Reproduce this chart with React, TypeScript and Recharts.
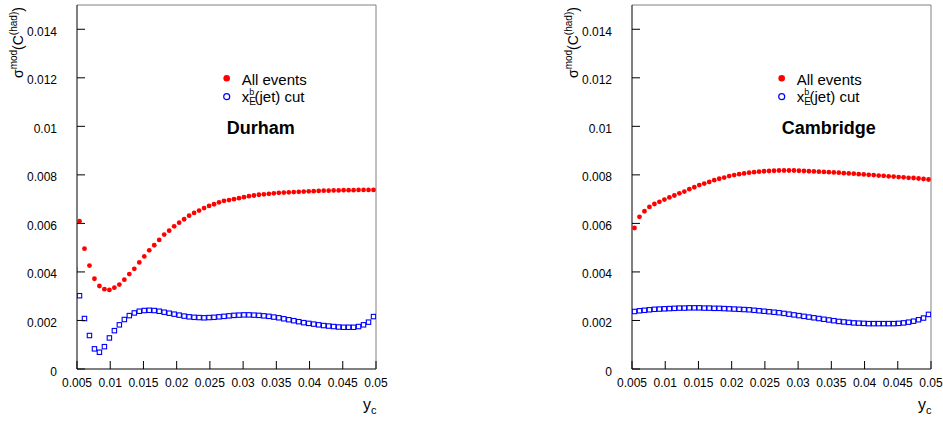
import React from 'react';
import { ScatterChart, Scatter, XAxis, YAxis, Legend } from 'recharts';

const FONT = '"Liberation Sans", Arial, Helvetica, sans-serif';

// bin centres of y_c
const binCenters = [
  0.005375, 0.006125, 0.006875, 0.007625, 0.008375, 0.009125, 0.009875, 0.010625, 0.011375, 0.012125,
  0.012875, 0.013625, 0.014375, 0.015125, 0.015875, 0.016625, 0.017375, 0.018125, 0.018875, 0.019625,
  0.020375, 0.021125, 0.021875, 0.022625, 0.023375, 0.024125, 0.024875, 0.025625, 0.026375, 0.027125,
  0.027875, 0.028625, 0.029375, 0.030125, 0.030875, 0.031625, 0.032375, 0.033125, 0.033875, 0.034625,
  0.035375, 0.036125, 0.036875, 0.037625, 0.038375, 0.039125, 0.039875, 0.040625, 0.041375, 0.042125,
  0.042875, 0.043625, 0.044375, 0.045125, 0.045875, 0.046625, 0.047375, 0.048125, 0.048875, 0.049625,
];

const durhamAll = [
  0.00609, 0.00496, 0.00426, 0.00372, 0.00342, 0.00329, 0.00326, 0.00335, 0.00348, 0.00368,
  0.00391, 0.00413, 0.00439, 0.00464, 0.00489, 0.00510, 0.00532, 0.00554, 0.00570, 0.00588,
  0.00603, 0.00617, 0.00632, 0.00643, 0.00653, 0.00663, 0.00672, 0.00679, 0.00687, 0.00693,
  0.00696, 0.00700, 0.00704, 0.00708, 0.00712, 0.00715, 0.00718, 0.00720, 0.00722, 0.00724,
  0.00726, 0.00727, 0.00728, 0.00729, 0.00730, 0.00731, 0.00732, 0.00733, 0.00734, 0.00735,
  0.00735, 0.00736, 0.00736, 0.00737, 0.00737, 0.00737, 0.00738, 0.00738, 0.00738, 0.00738,
];

const durhamCut = [
  0.00302, 0.00208, 0.00138, 0.00083, 0.00069, 0.00092, 0.00128, 0.00158, 0.00182, 0.00204,
  0.00220, 0.00231, 0.00238, 0.00241, 0.00242, 0.00241, 0.00238, 0.00234, 0.00230, 0.00226,
  0.00222, 0.00218, 0.00215, 0.00213, 0.00212, 0.00211, 0.00212, 0.00213, 0.00215, 0.00217,
  0.00219, 0.00221, 0.00222, 0.00223, 0.00223, 0.00222, 0.00221, 0.00219, 0.00217, 0.00214,
  0.00211, 0.00207, 0.00203, 0.00199, 0.00195, 0.00191, 0.00188, 0.00185, 0.00182, 0.00179,
  0.00177, 0.00175, 0.00173, 0.00172, 0.00172, 0.00172, 0.00175, 0.00182, 0.00193, 0.00216,
];

const cambridgeAll = [
  0.00581, 0.00627, 0.00650, 0.00668, 0.00680, 0.00689, 0.00698, 0.00707, 0.00715, 0.00724,
  0.00731, 0.00741, 0.00749, 0.00758, 0.00764, 0.00771, 0.00778, 0.00784, 0.00789, 0.00795,
  0.00799, 0.00803, 0.00806, 0.00809, 0.00811, 0.00813, 0.00815, 0.00816, 0.00817, 0.00818,
  0.00818, 0.00818, 0.00818, 0.00817, 0.00816, 0.00815, 0.00814, 0.00813, 0.00812, 0.00811,
  0.00810, 0.00809, 0.00807, 0.00806, 0.00805, 0.00803, 0.00802, 0.00800, 0.00799, 0.00797,
  0.00796, 0.00794, 0.00793, 0.00791, 0.00790, 0.00788, 0.00787, 0.00785, 0.00783, 0.00781,
];

const cambridgeCut = [
  0.00237, 0.00240, 0.00242, 0.00244, 0.00246, 0.00247, 0.00248, 0.00249, 0.00250, 0.00251,
  0.00251, 0.00252, 0.00252, 0.00252, 0.00251, 0.00251, 0.00250, 0.00250, 0.00249, 0.00248,
  0.00247, 0.00246, 0.00245, 0.00244, 0.00242, 0.00240, 0.00238, 0.00236, 0.00234, 0.00232,
  0.00229, 0.00226, 0.00223, 0.00220, 0.00217, 0.00214, 0.00211, 0.00208, 0.00205, 0.00202,
  0.00199, 0.00196, 0.00194, 0.00192, 0.00190, 0.00189, 0.00188, 0.00187, 0.00187, 0.00187,
  0.00187, 0.00187, 0.00187, 0.00188, 0.00190, 0.00193, 0.00197, 0.00203, 0.00210, 0.00225,
];

// a partly hidden marker just left of the Durham axis
const durhamCutEdgeX = [0.004625];
const durhamCutEdgeY = [0.0041];

const xMajorTicks = [0.005, 0.01, 0.015, 0.02, 0.025, 0.03, 0.035, 0.04, 0.045, 0.05];
const xTickLabels = ['0.005', '0.01', '0.015', '0.02', '0.025', '0.03', '0.035', '0.04', '0.045', '0.05'];
const yMajorTicks = [0, 0.002, 0.004, 0.006, 0.008, 0.01, 0.012, 0.014];
const yTickLabels = ['0', '0.002', '0.004', '0.006', '0.008', '0.01', '0.012', '0.014'];
const xMinorTicks = Array.from({ length: 46 }, (_, i) => 0.005 + i * 0.001);
const yMinorTicks = Array.from({ length: 31 }, (_, i) => i * 0.0005);

const X_DOMAIN: [number, number] = [0.005, 0.05];
const Y_DOMAIN: [number, number] = [0, 0.015];

const Y_LABEL_GAP = 20;
const MAJOR_LEN = 8;

const RedDot = (p: any) => <circle cx={p.cx} cy={p.cy} r={2.4} fill="#ff0000" />;
const BlueSquare = (p: any) => (
  <rect x={p.cx - 2.2} y={p.cy - 2.2} width={4.4} height={4.4} fill="none" stroke="#0000ff" strokeWidth={1.1} />
);

// major x tick: inward tick line plus label below the axis
const XTick = (p: any) => {
  const idx = xMajorTicks.indexOf(p.payload.value);
  return (
    <g>
      <line x1={p.x} x2={p.x} y1={p.y} y2={p.y - MAJOR_LEN} stroke="#000" strokeWidth={1} />
      <text x={p.x} y={p.y} dy={18} textAnchor="middle" fontFamily={FONT} fontSize={12} fill="#000">
        {idx >= 0 ? xTickLabels[idx] : ''}
      </text>
    </g>
  );
};

// major y tick: inward tick line plus label left of the axis
const YTick = (p: any) => {
  const idx = yMajorTicks.indexOf(p.payload.value);
  const ax = p.x + Y_LABEL_GAP;
  return (
    <g>
      <line x1={ax} x2={ax + MAJOR_LEN} y1={p.y} y2={p.y} stroke="#000" strokeWidth={1} />
      <text x={p.x} y={p.y} dy={6.5} textAnchor="end" fontFamily={FONT} fontSize={12} fill="#000">
        {idx >= 0 ? yTickLabels[idx] : ''}
      </text>
    </g>
  );
};

const YTitle = (p: any) => {
  const vb = p.viewBox || {};
  const x = vb.x + (vb.width || 0) - 54;
  const y = vb.y + 73;
  return (
    <text x={x} y={y} transform={`rotate(-90 ${x} ${y})`} fontFamily={FONT} fontSize={14} fill="#000">
      σ<tspan fontSize={10} dy={-6}>mod</tspan>
      <tspan fontSize={14} dy={6}>(C</tspan>
      <tspan fontSize={10} dy={-6}>(had)</tspan>
      <tspan fontSize={14} dy={6}>)</tspan>
    </text>
  );
};

const XTitle = (p: any) => {
  const vb = p.viewBox || {};
  return (
    <text x={vb.x + vb.width - 13} y={vb.y + 41} fontFamily={FONT} fontSize={16} fill="#000">
      y<tspan fontSize={11} dy={4}>c</tspan>
    </text>
  );
};

const makeLegend = (title: string) => () => (
  <svg width={150} height={74} style={{ overflow: 'visible', display: 'block' }}>
    <circle cx={6.7} cy={10.3} r={3.3} fill="#ff0000" />
    <text x={21.7} y={16.5} fontFamily={FONT} fontSize={15} fill="#000">All events</text>
    <circle cx={6.7} cy={28.7} r={3} fill="none" stroke="#0000ff" strokeWidth={1.2} />
    <text fontFamily={FONT} fontSize={15} fill="#000">
      <tspan x={21.7} y={33.7}>x</tspan>
      <tspan x={29.2} y={27} fontSize={9}>b</tspan>
      <tspan x={29.2} y={37} fontSize={10}>E</tspan>
      <tspan x={34.5} y={33.7}>(jet) cut</tspan>
    </text>
    <text x={6.7} y={66} fontFamily={FONT} fontSize={18} fontWeight="bold" fill="#000">{title}</text>
  </svg>
);

type PanelProps = {
  title: string;
  all: number[];
  cut: number[];
  edgeX?: number[];
  edgeY?: number[];
  left: number;
  width: number;
  margin: { top: number; right: number; bottom: number; left: number };
  legendLeft: number;
};

function Panel({ title, all, cut, edgeX, edgeY, left, width, margin, legendLeft }: PanelProps) {
  const allData = binCenters.map((x, i) => ({ x, y: all[i] }));
  const cutData = [
    ...(edgeX || []).map((x, i) => ({ x, y: (edgeY || [])[i] })),
    ...binCenters.map((x, i) => ({ x, y: cut[i] })),
  ];
  return (
    <div style={{ position: 'absolute', left, top: 0 }}>
      <ScatterChart width={width} height={421} margin={margin}>
        <XAxis
          xAxisId="x"
          dataKey="x"
          type="number"
          domain={X_DOMAIN}
          allowDataOverflow
          ticks={xMajorTicks}
          interval={0}
          height={1}
          tickSize={0}
          tickMargin={0}
          tickLine={false}
          tick={XTick}
          axisLine={{ stroke: '#000', strokeWidth: 1 }}
          label={{ content: XTitle }}
        />
        <XAxis xAxisId="xMinor" type="number" domain={X_DOMAIN} ticks={xMinorTicks} interval={0} height={1} mirror tickSize={4} tick={false} axisLine={false} tickLine={{ stroke: '#000' }} />
        <XAxis xAxisId="frameTop" orientation="top" type="number" domain={X_DOMAIN} height={1} tick={false} tickLine={false} axisLine={{ stroke: '#808080' }} />
        <YAxis
          yAxisId="y"
          dataKey="y"
          type="number"
          domain={Y_DOMAIN}
          allowDataOverflow
          ticks={yMajorTicks}
          interval={0}
          width={1}
          tickSize={0}
          tickMargin={Y_LABEL_GAP}
          tickLine={false}
          tick={YTick}
          axisLine={{ stroke: '#000', strokeWidth: 1 }}
          label={{ content: YTitle }}
        />
        <YAxis yAxisId="yMinor" type="number" domain={Y_DOMAIN} ticks={yMinorTicks} interval={0} width={1} mirror tickSize={4} tick={false} axisLine={false} tickLine={{ stroke: '#000' }} />
        <YAxis yAxisId="frameRight" orientation="right" type="number" domain={Y_DOMAIN} width={1} tick={false} tickLine={false} axisLine={{ stroke: '#808080' }} />
        <Scatter name="All events" xAxisId="x" yAxisId="y" data={allData} shape={RedDot} fill="#ff0000" isAnimationActive={false} />
        <Scatter name="x_E^b(jet) cut" xAxisId="x" yAxisId="y" data={cutData} shape={BlueSquare} fill="#0000ff" isAnimationActive={false} />
        <Legend
          layout="vertical"
          align="center"
          verticalAlign="middle"
          content={makeLegend(title)}
          wrapperStyle={{ left: legendLeft, top: 68, width: 150, height: 74 }}
        />
      </ScatterChart>
    </div>
  );
}

export default function App() {
  return (
    <div style={{ position: 'absolute', left: 0, top: 0, width: 943, height: 421, background: '#fff', fontFamily: FONT }}>
      <Panel
        title="Durham"
        all={durhamAll}
        cut={durhamCut}
        edgeX={durhamCutEdgeX}
        edgeY={durhamCutEdgeY}
        left={0}
        width={471}
        margin={{ top: 4, right: 94, bottom: 51, left: 76 }}
        legendLeft={220}
      />
      <Panel
        title="Cambridge"
        all={cambridgeAll}
        cut={cambridgeCut}
        left={471}
        width={472}
        margin={{ top: 4, right: 11, bottom: 51, left: 160 }}
        legendLeft={304}
      />
    </div>
  );
}
